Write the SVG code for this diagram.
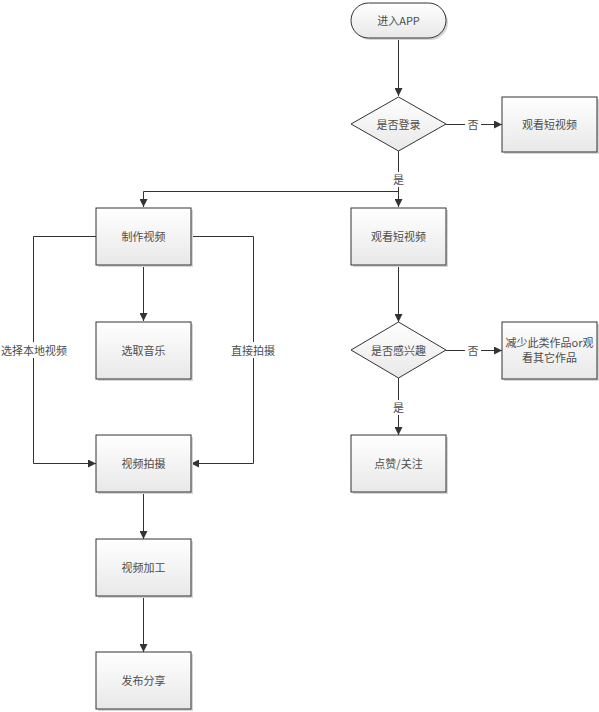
<svg xmlns="http://www.w3.org/2000/svg" width="599" height="712" viewBox="0 0 599 712">
<defs>
<linearGradient id="g" x1="0" y1="0" x2="0" y2="1">
<stop offset="0" stop-color="#ffffff"/>
<stop offset="1" stop-color="#e8e8e8"/>
</linearGradient>
<marker id="ah" viewBox="0 0 10 10" refX="10" refY="5" markerWidth="8" markerHeight="8" markerUnits="userSpaceOnUse" orient="auto">
<path d="M0,0 L10,5 L0,10 Z" fill="#333"/>
</marker>
</defs>
<style>
.n{fill:url(#g);stroke:#333;stroke-width:1}
.s{fill:#d6d6d6;stroke:none}
.t{font-family:"Noto Sans CJK SC","Liberation Sans",sans-serif;font-size:11px;fill:#4d4d4d;text-anchor:middle;dominant-baseline:central}
.c{fill:none;stroke:#333;stroke-width:1;marker-end:url(#ah)}
.p{fill:none;stroke:#333;stroke-width:1}
.lb{fill:#fff;stroke:none}
</style>
<rect width="599" height="712" fill="#fff"/>
<g id="connectors">
<path class="c" d="M398.5,38 V96"/>
<path class="c" d="M446,124.5 H502"/>
<path class="p" d="M398.5,151 V191"/>
<path class="c" d="M398.5,191 V207"/>
<path class="c" d="M398.5,191.5 H143.5 V207"/>
<path class="c" d="M143.5,265 V321"/>
<path class="c" d="M96,236.5 H33.5 V463.5 H96"/>
<path class="c" d="M191,236.5 H253.5 V463.5 H191"/>
<path class="c" d="M143.5,492 V539"/>
<path class="c" d="M143.5,597 V652"/>
<path class="c" d="M398.5,265 V322"/>
<path class="c" d="M446,350.5 H502"/>
<path class="c" d="M398.5,378 V435"/>
<rect class="lb" x="465" y="117" width="16" height="15"/>
<text class="t" x="473" y="124">否</text>
<rect class="lb" x="391" y="172" width="15" height="15"/>
<text class="t" x="398.5" y="179">是</text>
<rect class="lb" x="465" y="343" width="16" height="15"/>
<text class="t" x="473" y="350">否</text>
<rect class="lb" x="391" y="400" width="15" height="15"/>
<text class="t" x="398.5" y="407">是</text>
<rect class="lb" x="2" y="342" width="64" height="16"/>
<text class="t" x="34" y="350">选择本地视频</text>
<rect class="lb" x="230" y="342" width="46" height="16"/>
<text class="t" x="253" y="350">直接拍摄</text>
</g>
<g id="start">
<rect class="s" x="353" y="5" width="95" height="35" rx="17.5"/>
<rect class="n" x="351" y="3" width="95" height="35" rx="17.5"/>
<text class="t" x="398.5" y="20">进入APP</text>
</g>
<g id="login">
<path class="n" d="M398.5,97 L446,124 L398.5,151 L351,124 Z"/>
<text class="t" x="398.5" y="124">是否登录</text>
</g>
<g id="watch1">
<rect class="s" x="504" y="99" width="95" height="55"/>
<rect class="n" x="502" y="97" width="95" height="55"/>
<text class="t" x="549.5" y="124">观看短视频</text>
</g>
<g id="make">
<rect class="s" x="98" y="210" width="95" height="57"/>
<rect class="n" x="96" y="208" width="95" height="57"/>
<text class="t" x="143.5" y="236">制作视频</text>
</g>
<g id="watch2">
<rect class="s" x="353" y="210" width="95" height="57"/>
<rect class="n" x="351" y="208" width="95" height="57"/>
<text class="t" x="398.5" y="236">观看短视频</text>
</g>
<g id="music">
<rect class="s" x="98" y="324" width="95" height="57"/>
<rect class="n" x="96" y="322" width="95" height="57"/>
<text class="t" x="143.5" y="350">选取音乐</text>
</g>
<g id="interest">
<path class="n" d="M398.5,322 L446,350 L398.5,378 L351,350 Z"/>
<text class="t" x="398.5" y="350">是否感兴趣</text>
</g>
<g id="reduce">
<rect class="s" x="504" y="324" width="95" height="57"/>
<rect class="n" x="502" y="322" width="95" height="57"/>
<text class="t" x="549.5" y="342">减少此类作品or观</text>
<text class="t" x="549.5" y="357">看其它作品</text>
</g>
<g id="shoot">
<rect class="s" x="98" y="437" width="95" height="57"/>
<rect class="n" x="96" y="435" width="95" height="57"/>
<text class="t" x="143.5" y="463">视频拍摄</text>
</g>
<g id="like">
<rect class="s" x="353" y="437" width="95" height="57"/>
<rect class="n" x="351" y="435" width="95" height="57"/>
<text class="t" x="398.5" y="463">点赞/关注</text>
</g>
<g id="edit">
<rect class="s" x="98" y="541" width="95" height="57"/>
<rect class="n" x="96" y="539" width="95" height="57"/>
<text class="t" x="143.5" y="567">视频加工</text>
</g>
<g id="publish">
<rect class="s" x="98" y="654" width="95" height="57"/>
<rect class="n" x="96" y="652" width="95" height="57"/>
<text class="t" x="143.5" y="680">发布分享</text>
</g>
</svg>
